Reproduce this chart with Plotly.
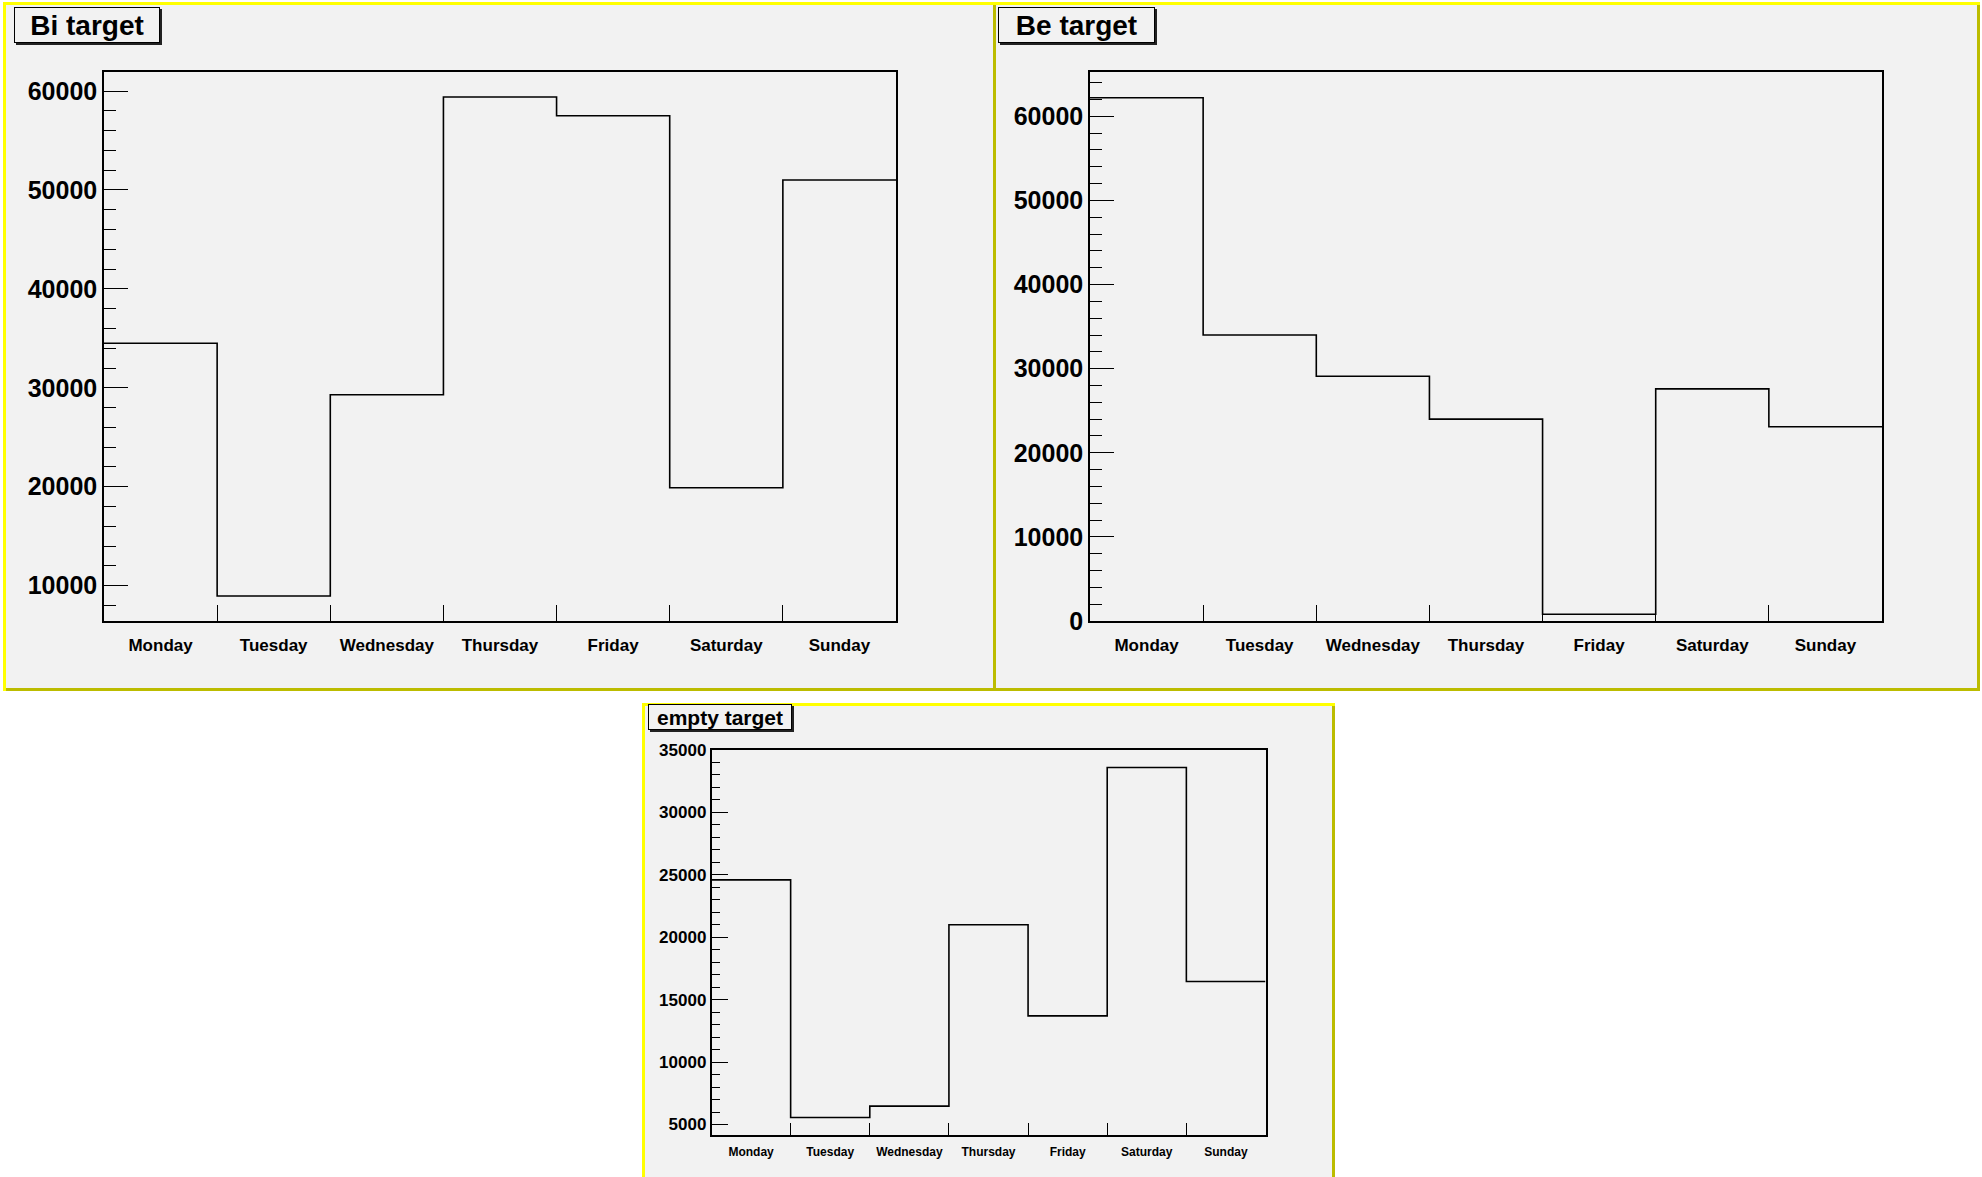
import plotly.graph_objects as go

# ---------------- data ----------------
days = ["Monday", "Tuesday", "Wednesday", "Thursday", "Friday", "Saturday", "Sunday"]
bi_values = [34500, 8950, 29300, 59400, 57500, 19900, 51000]
be_values = [62200, 34000, 29100, 24000, 800, 27600, 23100]
empty_values = [24600, 5560, 6470, 21000, 13700, 33600, 16450]
titles = ["Bi target", "Be target", "empty target"]

W, H = 1982, 1177
GRAY = "#f2f2f2"
YEL = "#ffff00"
DYEL = "#bcbc00"
FONT = "Liberation Sans, Arial, sans-serif"


def px(x):
    return x / W


def py(y):
    return 1 - y / H


def root_range(vals):
    lo, hi = min(vals), max(vals)
    m = 0.05 * (hi - lo)
    ymin = lo - m
    if ymin < 0 <= lo:
        ymin = 0
    return [ymin, hi + m]


fig = go.Figure()
shapes = []
annotations = []


def panel(x0, y0, x1, y1, b=3):
    shapes.append(dict(type="rect", xref="paper", yref="paper", layer="below",
                       x0=px(x0), x1=px(x1), y0=py(y1), y1=py(y0),
                       fillcolor=YEL, line=dict(width=0)))
    shapes.append(dict(type="rect", xref="paper", yref="paper", layer="below",
                       x0=px(x1 - b), x1=px(x1), y0=py(y1), y1=py(y0 + b),
                       fillcolor=DYEL, line=dict(width=0)))
    shapes.append(dict(type="rect", xref="paper", yref="paper", layer="below",
                       x0=px(x0 + b), x1=px(x1), y0=py(y1), y1=py(y1 - b),
                       fillcolor=DYEL, line=dict(width=0)))
    shapes.append(dict(type="rect", xref="paper", yref="paper", layer="below",
                       x0=px(x0 + b), x1=px(x1 - b), y0=py(y1 - b), y1=py(y0 + b),
                       fillcolor=GRAY, line=dict(width=0)))


def title_box(text, x0, y0, x1, y1, size):
    shapes.append(dict(type="rect", xref="paper", yref="paper", layer="below",
                       x0=px(x0 + 2), x1=px(x1 + 2), y0=py(y1 + 2), y1=py(y0 + 2),
                       fillcolor="#222222", line=dict(width=0)))
    annotations.append(dict(text=text, xref="paper", yref="paper",
                            x=px(x0), y=py(y0), xanchor="left", yanchor="top",
                            showarrow=False, width=x1 - x0 - 2, height=y1 - y0 - 2,
                            align="center", valign="middle",
                            bgcolor=GRAY, bordercolor="black", borderwidth=1, borderpad=0,
                            font=dict(family=FONT, size=size, color="black", weight="bold")))


# panels (pixel boxes)
panel(993, 2, 1980, 691)
panel(3, 2, 996, 691)
panel(642, 703, 1335, 1185)

title_box(titles[0], 14, 7, 160, 43, 28)
title_box(titles[1], 998, 7, 1155, 43, 28)
title_box(titles[2], 648, 704, 792, 730, 21)

# subplot definitions
subplots = [
    (bi_values, (104, 72, 896, 621), 10000, 2000, 25, 17, 16, 24, 12, 8),
    (be_values, (1090, 72, 1882, 621), 10000, 2000, 25, 17, 16, 24, 12, 8),
    (empty_values, (711.5, 750, 1265.5, 1135), 5000, 1000, 17, 12, 12, 17, 9, 5),
]

layout_axes = {}
xcat = list(range(len(days) + 1))
for i, (vals, box, dmaj, dmin, ylsize, xlsize, xtl, ymaj, ymin, xstand) in enumerate(subplots):
    n = "" if i == 0 else str(i + 1)
    xa, ya = "x" + n, "y" + n
    x0, y0, x1, y1 = box
    yvals = vals + [vals[-1]]
    fig.add_trace(go.Scatter(x=xcat, y=yvals, mode="lines", line_shape="hv",
                             line=dict(color="black", width=1.6), xaxis=xa, yaxis=ya,
                             showlegend=False, hoverinfo="skip"))
    layout_axes["xaxis" + n] = dict(
        domain=[px(x0), px(x1)], anchor=ya, range=[0, len(days)],
        tickmode="array", tickvals=[k + 0.5 for k in range(len(days))], ticktext=days,
        ticks="", showgrid=False, zeroline=False, automargin=False,
        showline=True, mirror=True, linecolor="black", linewidth=2,
        tickfont=dict(family=FONT, size=xlsize, color="black", weight="bold"),
        ticklabelstandoff=xstand,
        minor=dict(tickmode="array", tickvals=list(range(1, len(days))), ticks="inside",
                   ticklen=xtl, tickcolor="black", tickwidth=1, showgrid=False),
        fixedrange=True,
    )
    layout_axes["yaxis" + n] = dict(
        domain=[py(y1), py(y0)], anchor=xa, range=root_range(vals),
        tickmode="linear", tick0=0, dtick=dmaj, ticks="inside", ticklen=ymaj,
        tickcolor="black", tickwidth=1, automargin=False,
        minor=dict(tickmode="linear", tick0=0, dtick=dmin, ticks="inside", ticklen=ymin,
                   tickcolor="black", tickwidth=1, showgrid=False),
        showgrid=False, zeroline=False, showline=True, mirror=True,
        linecolor="black", linewidth=1.5,
        tickfont=dict(family=FONT, size=ylsize, color="black", weight="bold"),
        tickformat="d", fixedrange=True,
    )

fig.update_layout(
    width=W, height=H, autosize=False,
    margin=dict(l=0, r=0, t=0, b=0, pad=0, autoexpand=False),
    paper_bgcolor="white", plot_bgcolor=GRAY,
    shapes=shapes, annotations=annotations, showlegend=False,
    **layout_axes,
)

post = (
    "document.documentElement.style.margin='0';"
    "document.body.style.margin='0';"
    "document.body.style.padding='0';"
    "document.body.style.overflow='hidden';"
)

fig.write_html("out.html", config={"displayModeBar": False}, post_script=post)
